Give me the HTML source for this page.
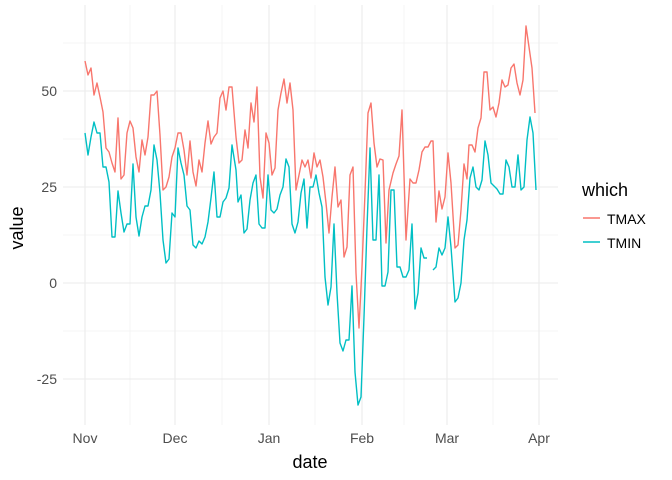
<!DOCTYPE html>
<html><head><meta charset="utf-8"><style>
body{margin:0;background:#fff}
svg{display:block;font-family:"Liberation Sans",sans-serif}
</style></head><body>
<svg width="672" height="480" viewBox="0 0 672 480">
<rect width="672" height="480" fill="#fff"/>
<g stroke="#f3f3f3" stroke-width="0.8">
<line x1="63" x2="558" y1="43" y2="43"/><line x1="63" x2="558" y1="139" y2="139"/><line x1="63" x2="558" y1="235" y2="235"/><line x1="63" x2="558" y1="331" y2="331"/>
<line x1="130" x2="130" y1="5" y2="425"/><line x1="222" x2="222" y1="5" y2="425"/><line x1="315" x2="315" y1="5" y2="425"/><line x1="404" x2="404" y1="5" y2="425"/><line x1="493" x2="493" y1="5" y2="425"/>
</g>
<g stroke="#ebebeb" stroke-width="1.1">
<line x1="63" x2="558" y1="91" y2="91"/><line x1="63" x2="558" y1="187" y2="187"/><line x1="63" x2="558" y1="283" y2="283"/><line x1="63" x2="558" y1="379" y2="379"/>
<line x1="85" x2="85" y1="5" y2="425"/><line x1="175" x2="175" y1="5" y2="425"/><line x1="269" x2="269" y1="5" y2="425"/><line x1="362" x2="362" y1="5" y2="425"/><line x1="447" x2="447" y1="5" y2="425"/><line x1="539" x2="539" y1="5" y2="425"/>
</g>
<g fill="none" stroke-width="1.4" stroke-linejoin="round">
<polyline stroke="#F8766D" points="85,61 88,75 91,68 94,95 97,83 100,97 103,112 106,148 109,152 112,163 115,172 118,118 121,179 124,175 127,133 130,121 133,128 136,157 139,172 142,140 145,155 148,137 151,95 154,95 157,91 160,135 163,190 166,187 169,177 172,157 175,148 178,133 181,133 184,150 187,175 190,141 193,172 196,186 199,160 202,172 205,143 208,121 211,144 214,137 217,133 220,98 223,91 226,110 229,87 232,87 236,137 239,163 242,160 245,130 248,148 251,103 254,122 257,87 260,177 263,198 266,133 269,143 272,175 275,168 278,110 281,93 284,79 287,103 290,83 293,110 296,190 299,175 302,160 305,167 308,160 311,178 314,153 317,167 320,160 323,177 326,203 329,233 332,197 335,167 338,207 341,200 344,257 347,247 350,175 353,167 356,273 359,328 362,267 365,193 368,113 371,103 374,143 377,167 380,159 383,160 386,243 389,190 393,173 396,164 399,156 402,110 406,240 410,179 413,183 416,183 419,170 422,152 425,147 428,147 431,141 433,141 436,222 439,191 442,209 445,197 448,153 451,183 455,248 458,245 461,210 464,164 467,179 469,145 472,145 475,152 478,128 481,118 484,72 487,72 490,110 493,107 496,117 499,103 502,80 505,87 508,85 511,68 514,64 517,83 520,95 523,80 526,26 529,47 532,68 535,113"/>
<polyline stroke="#00BFC4" points="85,133 88,155 91,137 94,122 97,133 100,133 103,167 106,167 109,182 112,237 115,237 118,191 121,213 124,232 127,224 130,224 133,164 136,217 139,236 142,217 145,206 148,206 151,190 154,145 157,160 160,193 163,240 166,263 169,259 172,213 175,217 178,148 181,163 184,175 187,206 190,210 193,245 196,248 199,241 202,244 205,237 208,222 211,198 214,172 217,217 220,217 223,202 226,198 229,188 232,145 236,170 238,202 241,195 244,233 247,229 250,200 253,183 256,175 259,224 262,228 265,228 268,175 271,210 274,213 277,209 280,195 283,187 286,159 289,167 292,224 295,233 298,222 301,193 304,179 307,228 310,187 313,187 316,175 319,193 322,207 325,277 328,305 331,287 334,224 337,293 340,343 343,351 346,340 349,340 352,286 355,372 358,405 361,397 364,317 367,227 370,148 373,240 376,240 379,175 382,286 385,286 388,272 391,190 394,190 397,267 400,267 403,277 406,277 409,270 412,224 415,309 418,293 421,248 424,258 427,258"/>
<polyline stroke="#00BFC4" points="433,270 436,267 439,248 442,255 445,248 448,217 451,247 455,302 458,298 461,283 464,240 467,220 470,178 473,167 476,187 479,190 482,180 485,141 488,155 491,183 494,186 497,189 500,194 503,194 506,160 509,167 512,187 515,187 518,155 521,190 524,187 527,140 530,117 533,133 536,190"/>
</g>
<g fill="#4d4d4d" font-size="14" text-anchor="end">
<text x="57" y="96">50</text><text x="57" y="192">25</text><text x="57" y="288">0</text><text x="57" y="384">-25</text>
</g>
<g fill="#4d4d4d" font-size="14" text-anchor="middle">
<text x="85" y="443">Nov</text><text x="175" y="443">Dec</text><text x="269" y="443">Jan</text><text x="362" y="443">Feb</text><text x="447" y="443">Mar</text><text x="539" y="443">Apr</text>
</g>
<text x="310" y="468" font-size="18" text-anchor="middle" fill="#000">date</text>
<text transform="translate(23,228) rotate(-90)" font-size="18" text-anchor="middle" fill="#000">value</text>
<text x="582" y="196" font-size="18" fill="#000">which</text>
<line x1="583" x2="600" y1="218" y2="218" stroke="#F8766D" stroke-width="1.4"/>
<line x1="583" x2="600" y1="242" y2="242" stroke="#00BFC4" stroke-width="1.4"/>
<text x="607" y="224" font-size="14" fill="#000">TMAX</text>
<text x="607" y="248" font-size="14" fill="#000">TMIN</text>
</svg>
</body></html>
